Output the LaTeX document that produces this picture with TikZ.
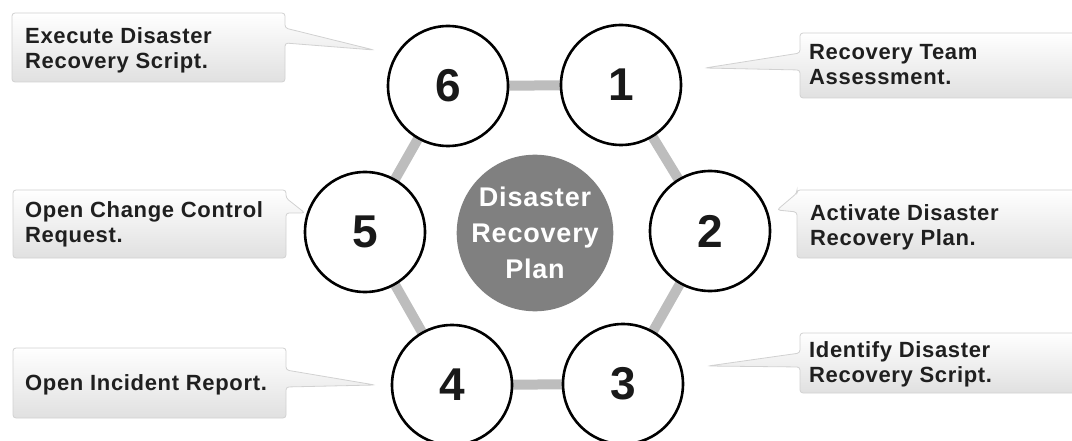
\documentclass[tikz,border=0pt]{standalone}
\usepackage{fontspec}
\setmainfont{Liberation Sans}
\newfontfamily\widesans[LetterSpace=3]{Liberation Sans}
\begin{document}
\begin{tikzpicture}[x=1pt,y=-1pt,
  step circle/.style={circle,draw=black,line width=2.6pt,fill=white,minimum size=120pt,inner sep=0pt,
    font=\fontsize{46}{46}\selectfont\bfseries,text=black!90},
  hub/.style={circle,fill=black!50,minimum size=154pt,inner sep=0pt,align=center,text=white,
    font=\widesans\fontsize{27}{36}\selectfont\bfseries},
  ring/.style={line width=10pt,draw=black!26},
  bubble/.style={draw=black!18,line width=0.8pt,top color=white,bottom color=black!12,rounded corners=3pt},
  label/.style={anchor=north west,inner sep=0pt,align=left,text=black!88,
    font=\widesans\fontsize{22}{25}\selectfont\bfseries}]
\useasboundingbox (0,0) rectangle (1072,441);
% hexagon ring
\coordinate (c1) at (621,85);
\coordinate (c2) at (710,231);
\coordinate (c3) at (623,384);
\coordinate (c4) at (452,385);
\coordinate (c5) at (365,232);
\coordinate (c6) at (448,86);
\draw[ring] (c1) -- (c2) -- (c3) -- (c4) -- (c5) -- (c6) -- cycle;
% callout bubbles
\path[bubble] (12,13) -- (285,13) -- (285,28) -- (374,50) -- (285,43) -- (285,82) -- (12,82) -- cycle;
\path[bubble] (800,33) -- (1075,33) -- (1075,98) -- (800,98) -- (800,70) -- (705,68) -- (800,53) -- cycle;
\path[bubble] (13,190) -- (286,190) -- (286,198) -- (305,213) -- (286,213) -- (286,258) -- (13,258) -- cycle;
\path[bubble] (797,190) -- (1075,190) -- (1075,258) -- (797,258) -- (797,212) -- (777,210) -- (797,193) -- cycle;
\path[bubble] (13,348) -- (286,348) -- (286,370) -- (375,385) -- (286,387) -- (286,418) -- (13,418) -- cycle;
\path[bubble] (800,333) -- (1075,333) -- (1075,393) -- (800,393) -- (800,367) -- (708,366) -- (800,353) -- cycle;
% circles
\node[hub] (hub) at (535,233) {Disaster\\Recovery\\Plan};
\node[step circle] (s1) at (c1) {1};
\node[step circle] (s2) at (c2) {2};
\node[step circle] (s3) at (c3) {3};
\node[step circle] (s4) at (c4) {4};
\node[step circle] (s5) at (c5) {5};
\node[step circle] (s6) at (c6) {6};
% labels
\node[label] (t6) at (25,27) {Execute Disaster\\Recovery Script.};
\node[label] (t1) at (809,44) {Recovery Team\\Assessment.};
\node[label] (t5) at (25,201) {Open Change Control\\Request.};
\node[label] (t2) at (810,204) {Activate Disaster\\Recovery Plan.};
\node[label] (t4) at (25,374) {Open Incident Report.};
\node[label] (t3) at (809,341) {Identify Disaster\\Recovery Script.};
\end{tikzpicture}
\end{document}
